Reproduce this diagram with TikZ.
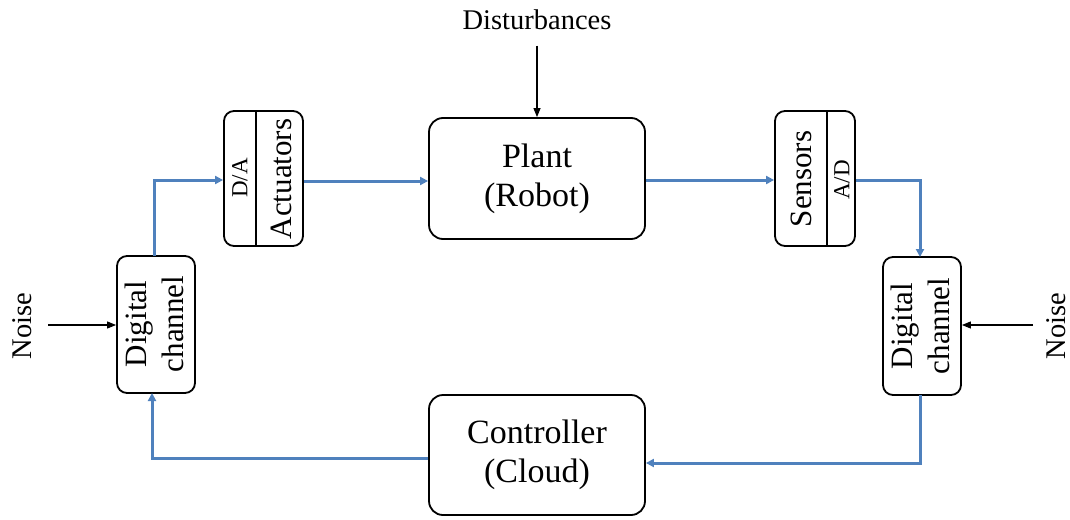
\documentclass[tikz,border=0pt]{standalone}
\usepackage{fontspec}
\setmainfont{Liberation Serif}
\usetikzlibrary{arrows.meta,calc}
\definecolor{flow}{HTML}{4F81BD}
\begin{document}
\begin{tikzpicture}[x=1pt,y=-1pt,
  blk/.style={draw=black,line width=1.8pt,rounded corners=14pt,inner sep=0pt},
  sblk/.style={draw=black,line width=1.8pt,rounded corners=10pt,inner sep=0pt},
  bigtxt/.style={font=\fontsize{34}{39}\selectfont},
  midtxt/.style={font=\fontsize{31}{37}\selectfont},
  smtxt/.style={font=\fontsize{23}{27}\selectfont},
  lbl/.style={font=\fontsize{28.5}{33}\selectfont},
  flowline/.style={draw=flow,line width=3pt,-{Triangle[length=8pt,width=8pt]}},
  inarrow/.style={draw=black,line width=1.1pt,-{Triangle[length=9pt,width=7pt]}}]
\useasboundingbox (0,0) rectangle (1070,519);

% main blocks
\node[blk,minimum width=216pt,minimum height=121pt,bigtxt,align=center] (plant) at (537,178.5) {Plant\\(Robot)};
\node[blk,minimum width=216pt,minimum height=120pt,bigtxt,align=center] (ctrl) at (537,455) {Controller\\(Cloud)};

% actuator block
\node[sblk,minimum width=79pt,minimum height=135pt] (act) at (263.5,178.5) {};
\draw[line width=1.2pt] (256,111) -- (256,246);
\node[smtxt,rotate=90] (da) at (240,178) {D/A};
\node[midtxt,rotate=90] (acttxt) at (281,179) {Actuators};

% sensor block
\node[sblk,minimum width=80pt,minimum height=135pt] (sen) at (815,178.5) {};
\draw[line width=1.2pt] (827,111) -- (827,246);
\node[midtxt,rotate=90] (sentxt) at (801,179) {Sensors};
\node[smtxt,rotate=90] (ad) at (842,180) {A/D};

% digital channels
\node[sblk,minimum width=78pt,minimum height=137pt] (ldc) at (156,324.5) {};
\node[midtxt,rotate=90,align=center] (ldctxt) at (154,324) {Digital\\channel};
\node[sblk,minimum width=78pt,minimum height=138pt] (rdc) at (922,326) {};
\node[midtxt,rotate=90,align=center] (rdctxt) at (920,326) {Digital\\channel};

% external inputs
\node[lbl] (dist) at (537,20) {Disturbances};
\draw[inarrow] (dist.south) ++(0,12) coordinate (dtop) -- (plant.north);
\node[lbl,rotate=90] (nl) at (22,326) {Noise};
\node[lbl,rotate=90] (nr) at (1056,326) {Noise};
\coordinate (nlstart) at (48,325);
\coordinate (nrstart) at (1033,325);
\draw[inarrow] (nlstart) -- (ldc.west |- nlstart);
\draw[inarrow] (nrstart) -- (rdc.east |- nrstart);

% signal flow
\draw[flowline] (154,256) |- (act.west |- 0,180);
\draw[flowline] (act.east |- 0,181) -- (plant.west |- 0,181);
\draw[flowline] (plant.east |- 0,180) -- (sen.west |- 0,180);
\draw[flowline] (sen.east |- 0,180) -| (920,257);
\draw[flowline] (920,395) |- (ctrl.east |- 0,463);
\draw[flowline] (ctrl.west |- 0,458) -| (152,393);
\end{tikzpicture}
\end{document}
